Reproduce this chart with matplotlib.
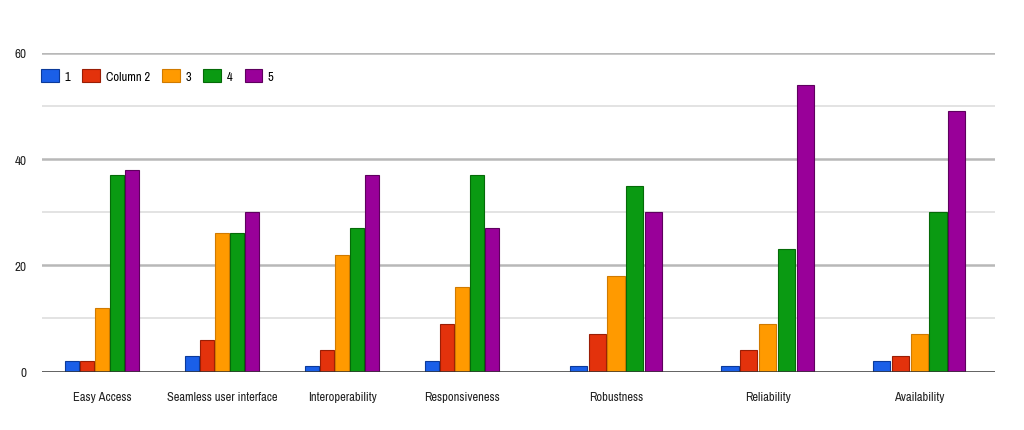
import numpy as np
import matplotlib.pyplot as plt
import matplotlib.patches as mpatches
from matplotlib import font_manager

# Data
categories_left = ["Easy Access", "Seamless user interface", "Interoperability", "Responsiveness"]
categories_right = ["Robustness", "Reliability", "Availability"]
series_names = ["1", "Column 2", "3", "4", "5"]

s1 = [2, 3, 1, 2, 1, 1, 2]
s2 = [2, 6, 4, 9, 7, 4, 3]
s3 = [12, 26, 22, 16, 18, 9, 7]
s4 = [37, 26, 27, 37, 35, 23, 30]
s5 = [38, 30, 37, 27, 30, 54, 49]

y_ticks = [0, 20, 40, 60]

COLORS = ["#1a5fe8", "#e3320c", "#ff9a00", "#0a9a12", "#990099"]
EDGES = ["#0b3a9a", "#9a1e05", "#d07a00", "#056a08", "#5e005e"]

# pick a condensed face if one is installed, the reference text is narrow
narrow = sorted({f.name for f in font_manager.fontManager.ttflist
                 if "Narrow" in f.name or "Condensed" in f.name})
FONT = narrow[:1] + ["Liberation Sans", "DejaVu Sans"]
FS = 9 if narrow else 8

series = [s1, s2, s3, s4, s5]

W, H = 1024, 431
fig = plt.figure(figsize=(W / 100, H / 100), dpi=100)

top, base = 54, 372.5
ax_l = fig.add_axes([42 / W, (H - base) / H, (532 - 42) / W, (base - top) / H])
ax_r = fig.add_axes([532 / W, (H - base) / H, (995 - 532) / W, (base - top) / H])

slot = 0.124
for ax, cats, offset, xlim in [(ax_l, categories_left, 0, (-0.5, 3.583)),
                               (ax_r, categories_right, 4, (-0.554, 2.5))]:
    x = np.arange(len(cats))
    for i, vals in enumerate(series):
        v = vals[offset:offset + len(cats)]
        ax.bar(x + (i - 2) * slot, v, width=slot * 0.92, color=COLORS[i],
               edgecolor=EDGES[i], linewidth=0.8, zorder=3,
               label=series_names[i])
    ax.set_xlim(*xlim)
    ax.set_ylim(0, 60)
    ax.set_xticks(x)
    ax.set_xticklabels(cats, family=FONT, fontsize=FS, color="#222222")
    ax.tick_params(axis="x", length=0, pad=14)
    for y in range(10, 61, 10):
        ax.axhline(y, color="#b8b8b8" if y % 20 == 0 else "#e0e0e0",
                   linewidth=1.8 if y % 20 == 0 else 1.3, zorder=1)
    ax.axhline(0, color="#333333", linewidth=1.8, zorder=4)
    for sp in ax.spines.values():
        sp.set_visible(False)
    ax.set_yticks(y_ticks)

ax_l.set_yticklabels([str(t) for t in y_ticks], family=FONT, fontsize=FS + 0.5, color="#222222")
ax_l.tick_params(axis="y", length=0, pad=11)
ax_r.set_yticklabels([])
ax_r.tick_params(axis="y", length=0)

handles = [mpatches.Patch(facecolor=COLORS[i], edgecolor=EDGES[i], linewidth=0.8,
                          label=series_names[i]) for i in range(5)]
ax_l.legend(handles=handles, loc="upper left", bbox_to_anchor=(-0.025, 0.985),
            ncol=5, frameon=False, handlelength=1.4, handleheight=1.2,
            handletextpad=0.45, columnspacing=1.0,
            prop={"family": FONT, "size": FS})

fig.savefig("out.png", dpi=100)
